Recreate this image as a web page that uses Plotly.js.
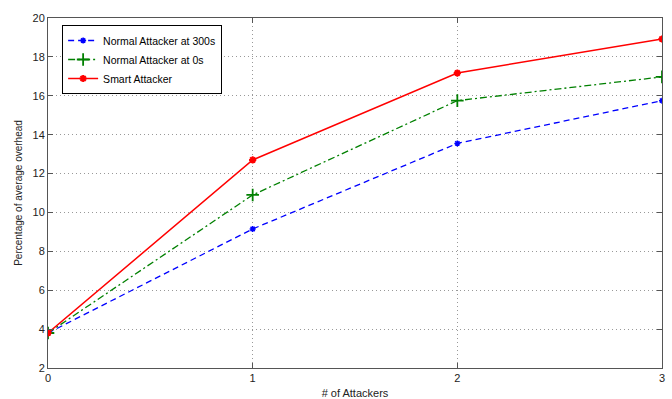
<!DOCTYPE html>
<html>
<head>
<meta charset="utf-8">
<script src="https://cdn.plot.ly/plotly-3.0.1.min.js"></script>
<style>html,body{margin:0;padding:0;background:#fff;}#chart{width:672px;height:399px;}</style>
</head>
<body>
<div id="chart"></div>
<script>
const attackers = [0, 1, 2, 3];
const normal300 = [3.8, 9.15, 13.55, 15.75];
const normal0 = [3.8, 10.9, 15.75, 16.97];
const smart = [3.8, 12.7, 17.17, 18.92];
const seriesNames = ["Normal Attacker at 300s", "Normal Attacker at 0s", "Smart Attacker"];
const yTicks = [2, 4, 6, 8, 10, 12, 14, 16, 18, 20];

const font = {family: "Liberation Sans, Arial, sans-serif", size: 11, color: "#222"};
const traces = [
  {x: attackers, y: normal300, name: seriesNames[0], mode: "lines+markers",
   line: {color: "#0000ff", dash: "6px,4px", width: 1.3},
   marker: {symbol: "asterisk-open", size: 5, color: "#0000ff", line: {color: "#0000ff", width: 1.5}}},
  {x: attackers, y: normal0, name: seriesNames[1], mode: "lines+markers",
   line: {color: "#008000", dash: "7px,3px,2px,3px", width: 1.3},
   marker: {symbol: "cross-thin-open", size: 9, color: "#008000", line: {color: "#008000", width: 1.8}}},
  {x: attackers, y: smart, name: seriesNames[2], mode: "lines+markers",
   line: {color: "#ff0000", width: 1.5},
   marker: {symbol: "asterisk-open", size: 6, color: "#ff0000", line: {color: "#ff0000", width: 2}}}
];
const layout = {
  width: 672, height: 399,
  margin: {l: 48, r: 10, t: 18, b: 31},
  paper_bgcolor: "#fff", plot_bgcolor: "#fff",
  font: font,
  showlegend: true,
  legend: {x: 0.023, y: 0.98, xanchor: "left", yanchor: "top", bgcolor: "#fff",
           bordercolor: "#000", borderwidth: 1, font: {family: font.family, size: 10.5, color: "#000"},
           tracegroupgap: 0, itemwidth: 30},
  xaxis: {range: [0, 3], tickvals: attackers, ticktext: attackers.map(String),
          showgrid: true, gridcolor: "#999", griddash: "1px,3px", gridwidth: 1,
          showline: true, linecolor: "#555", mirror: "ticks", ticks: "inside", ticklen: 5, tickcolor: "#555",
          zeroline: false, tickfont: font,
          title: {text: "# of Attackers", font: font, standoff: 6}},
  yaxis: {range: [2, 20], tickvals: yTicks, ticktext: yTicks.map(String),
          showgrid: true, gridcolor: "#999", griddash: "1px,3px", gridwidth: 1,
          showline: true, linecolor: "#555", mirror: "ticks", ticks: "inside", ticklen: 5, tickcolor: "#555",
          zeroline: false, tickfont: font,
          title: {text: "Percentage of average overhead", font: {family: font.family, size: 10, color: "#222"}, standoff: 8}}
};
Plotly.newPlot("chart", traces, layout, {displayModeBar: false, staticPlot: true});
</script>
</body>
</html>
